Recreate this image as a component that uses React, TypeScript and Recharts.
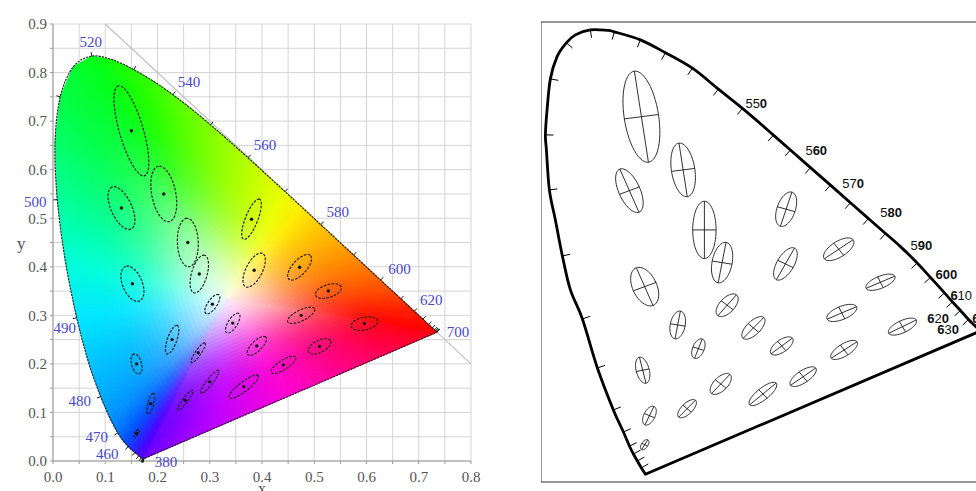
import React from 'react';
import { ScatterChart, Scatter, XAxis, YAxis, CartesianGrid } from 'recharts';

// ---------- LEFT: CIE 1931 spectral locus (5 nm) ----------
const wavelengths = [380,385,390,395,400,405,410,415,420,425,430,435,440,445,450,455,460,465,470,475,480,485,490,495,500,505,510,515,520,525,530,535,540,545,550,555,560,565,570,575,580,585,590,595,600,605,610,615,620,625,630,635,640,645,650,655,660,665,670,675,680,685,690,695,700];
const locusX = [0.1741,0.1740,0.1738,0.1736,0.1733,0.1730,0.1726,0.1721,0.1714,0.1703,0.1689,0.1669,0.1644,0.1611,0.1566,0.1510,0.1440,0.1355,0.1241,0.1096,0.0913,0.0687,0.0454,0.0235,0.0082,0.0039,0.0139,0.0389,0.0743,0.1142,0.1547,0.1929,0.2296,0.2658,0.3016,0.3373,0.3731,0.4087,0.4441,0.4788,0.5125,0.5448,0.5752,0.6029,0.6270,0.6482,0.6658,0.6801,0.6915,0.7006,0.7079,0.7140,0.7190,0.7230,0.7260,0.7283,0.7300,0.7311,0.7320,0.7327,0.7334,0.7340,0.7344,0.7346,0.7347];
const locusY = [0.0050,0.0050,0.0049,0.0049,0.0048,0.0048,0.0048,0.0048,0.0051,0.0058,0.0069,0.0086,0.0109,0.0138,0.0177,0.0227,0.0297,0.0399,0.0578,0.0868,0.1327,0.2007,0.2950,0.4127,0.5384,0.6548,0.7502,0.8120,0.8338,0.8262,0.8059,0.7816,0.7543,0.7243,0.6923,0.6589,0.6245,0.5896,0.5547,0.5202,0.4866,0.4544,0.4242,0.3965,0.3725,0.3514,0.3340,0.3197,0.3083,0.2993,0.2920,0.2859,0.2809,0.2770,0.2740,0.2717,0.2700,0.2689,0.2680,0.2673,0.2666,0.2660,0.2656,0.2654,0.2653];
const whiteX = 0.3333;
const whiteY = 0.3333;

const leftTicksX = [0,0.05,0.1,0.15,0.2,0.25,0.3,0.35,0.4,0.45,0.5,0.55,0.6,0.65,0.7,0.75,0.8];
const leftTicksY = [0,0.05,0.1,0.15,0.2,0.25,0.3,0.35,0.4,0.45,0.5,0.55,0.6,0.65,0.7,0.75,0.8,0.85,0.9];

// MacAdam (1942) ellipses: centre, semi-axes (x 1e-3), angle (deg)
const macX = [0.160,0.187,0.253,0.150,0.131,0.212,0.258,0.152,0.280,0.380,0.160,0.228,0.305,0.385,0.472,0.527,0.475,0.510,0.596,0.344,0.390,0.441,0.278,0.300,0.365];
const macY = [0.057,0.118,0.125,0.680,0.521,0.550,0.450,0.365,0.385,0.498,0.200,0.250,0.323,0.393,0.399,0.350,0.300,0.236,0.283,0.284,0.237,0.198,0.223,0.163,0.153];
const macA = [0.85,2.2,2.5,9.6,4.7,5.8,5.0,3.8,4.0,4.4,2.1,3.1,2.3,3.8,3.2,2.6,2.9,2.4,2.6,2.3,2.5,2.8,2.4,2.9,3.6];
const macB = [0.35,0.55,0.5,2.3,2.0,2.3,2.0,1.9,1.5,1.2,0.95,0.9,0.9,1.6,1.4,1.3,1.1,1.2,1.3,0.9,1.0,0.95,0.55,0.6,0.95];
const macT = [62.5,77,55.5,105,112.5,100,92,110,75.5,70,104,72,58,65.5,51,20,28.5,29.5,13,60,47,34.5,57.5,54,40];
const MAGNIFY = 10; // ellipses drawn ten times actual size

const leftLabelWl = [520,540,560,580,600,620,700,500,490,480,470,460,380];
const leftLabelOff = [[-1,-14],[16,-13],[17,-13],[17,-13],[19,-11],[17,-11],[21,0],[-22,2],[-12,10],[-21,4],[-21,4],[-21,7],[22,3]];

// ---------- RIGHT: traced diagram ----------
const rightLocusX = [0.1717,0.1650,0.1582,0.1515,0.1448,0.1347,0.1178,0.0909,0.0657,0.0455,0.0320,0.0202,0.0101,0.0051,0.0034,0.0062,0.0118,0.0231,0.0387,0.0539,0.0791,0.1072,0.1195,0.1633,0.2054,0.2508,0.2946,0.3350,0.3653,0.3872,0.4158,0.4495,0.4832,0.5168,0.5471,0.5758,0.6010,0.6291,0.6515,0.6751,0.6886,0.7020,0.7155,0.7357];
const rightLocusY = [0.0142,0.0259,0.0388,0.0518,0.0665,0.0924,0.1331,0.2107,0.3013,0.3549,0.4177,0.4843,0.5397,0.6137,0.6414,0.6876,0.7449,0.7861,0.8115,0.8262,0.8355,0.8346,0.8318,0.8170,0.7933,0.7647,0.7259,0.6904,0.6621,0.6410,0.6135,0.5810,0.5486,0.5161,0.4869,0.4593,0.4349,0.4048,0.3780,0.3494,0.3327,0.3170,0.3004,0.2791];
const rightLocusTick = [0,1,1,1,1,1,1,1,1,0,1,0,1,0,1,0,1,0,1,0,1,0,1,1,1,1,1,1,0,1,1,1,1,1,1,1,0,1,1,1,1,1,1,0];

const rightEX = [0.1705,0.1785,0.2419,0.165,0.1448,0.2352,0.2710,0.1705,0.3008,0.4086,0.1672,0.2261,0.3093,0.4074,0.4971,0.5673,0.5022,0.5062,0.6044,0.3535,0.4012,0.4372,0.2609,0.2985,0.3695];
const rightEY = [0.0689,0.1226,0.1355,0.675,0.5384,0.5767,0.4658,0.3610,0.4054,0.5041,0.2065,0.2902,0.3266,0.4030,0.4301,0.3691,0.3124,0.2440,0.2871,0.2847,0.2514,0.1946,0.2464,0.1811,0.1627];
const rightEA = [0.0105,0.0186,0.021,0.085,0.043,0.050,0.053,0.0375,0.038,0.033,0.0247,0.026,0.0248,0.033,0.030,0.0267,0.0273,0.0265,0.0263,0.026,0.023,0.0265,0.019,0.0234,0.030];
const rightEB = [0.0055,0.0095,0.0095,0.029,0.018,0.0197,0.0197,0.0205,0.0169,0.0155,0.011,0.0126,0.013,0.0145,0.014,0.011,0.012,0.011,0.011,0.012,0.011,0.011,0.0098,0.012,0.0105];
const rightET = [60,66,48,98,112,98,90,112,80,73,103,80,51,62.5,36,25,25,35,28,48,39,37,70,49,42];

const rightLabelText = ['550','560','570','580','590','600','610','620','630','640'];
const rightLabelX = [0.340,0.441,0.503,0.567,0.618,0.660,0.685,0.646,0.663,0.722];
const rightLabelY = [0.691,0.604,0.543,0.490,0.429,0.375,0.336,0.294,0.274,0.294];
const rightLabelBold = ['001','011','001','011','011','111','100','101','101','100'];

const rightTicksX = [0.05,0.1,0.15,0.2,0.25,0.3,0.35,0.4,0.45,0.5,0.55,0.6,0.65,0.7];
const rightTicksY = [0.05,0.1,0.15,0.2,0.25,0.3,0.35,0.4,0.45,0.5,0.55,0.6,0.65,0.7,0.75,0.8];

// ---------- colours ----------
const specStops: [number, string][] = [
  [380,'#6a00ff'],[440,'#4a00ff'],[455,'#2424ff'],[465,'#0050ff'],[475,'#0090ff'],[485,'#00c4ff'],
  [490,'#00e6ff'],[495,'#00ffd8'],[500,'#00ff9c'],[505,'#00ff6a'],[510,'#00ff44'],[520,'#00ff18'],
  [530,'#22ff00'],[540,'#52ff00'],[550,'#84ff00'],[560,'#b6ff00'],[570,'#eaff00'],[575,'#ffec00'],
  [580,'#ffc800'],[590,'#ff9000'],[600,'#ff6000'],[610,'#ff3a00'],[620,'#ff1e00'],[640,'#ff0a00'],[700,'#ff0000']];
const purpleStops: [number, string][] = [[0,'#ff0010'],[0.25,'#ff0070'],[0.5,'#ff00d0'],[0.75,'#c000ff'],[1,'#6a00ff']];

type RGB = number[];
function hx(c: string): RGB { return [parseInt(c.slice(1,3),16), parseInt(c.slice(3,5),16), parseInt(c.slice(5,7),16)]; }
function mixRGB(A: RGB, B: RGB, t: number): RGB { return A.map((v, i) => v + (B[i] - v) * t); }
function rgbStr(c: RGB) { return `rgb(${Math.round(c[0])},${Math.round(c[1])},${Math.round(c[2])})`; }
function stopColor(stops: [number, string][], w: number): RGB {
  for (let i = 0; i < stops.length - 1; i++) {
    const [w0, c0] = stops[i], [w1, c1] = stops[i + 1];
    if (w >= w0 && w <= w1) return mixRGB(hx(c0), hx(c1), (w - w0) / (w1 - w0));
  }
  return hx(stops[stops.length - 1][1]);
}
const locusColors = wavelengths.map(w => stopColor(specStops, w));

// ---------- derived data ----------
const fillData = [...wavelengths.map((w, i) => ({ x: locusX[i], y: locusY[i] })), { x: whiteX, y: whiteY }];
const locusData = wavelengths.map((w, i) => ({ x: locusX[i], y: locusY[i], w }));
const leftTickMask = wavelengths.map(w => w % 10 === 0);
const diagData = [{ x: 0.1, y: 0.9 }, { x: 0.8, y: 0.2 }];

function triple(cx: number, cy: number, a: number, b: number, t: number) {
  const r = (t * Math.PI) / 180;
  return [
    { x: cx, y: cy, k: 0 },
    { x: cx + a * Math.cos(r), y: cy + a * Math.sin(r), k: 1 },
    { x: cx - b * Math.sin(r), y: cy + b * Math.cos(r), k: 2 },
  ];
}
const leftEllipseData = macX.flatMap((x, i) => triple(x, macY[i], macA[i] * 1e-3 * MAGNIFY, macB[i] * 1e-3 * MAGNIFY, macT[i]));
const rightEllipseData = rightEX.flatMap((x, i) => triple(x, rightEY[i], rightEA[i], rightEB[i], rightET[i]));
const leftLabelData = leftLabelWl.map((w, i) => { const j = wavelengths.indexOf(w); return { x: locusX[j], y: locusY[j], t: String(w), i }; });
const rightLocusData = rightLocusX.map((x, i) => ({ x, y: rightLocusY[i] }));
const rightTickMask = rightLocusTick.map(v => v === 1);
const rightLabelData = rightLabelText.map((t, i) => ({ x: rightLabelX[i], y: rightLabelY[i], t, i }));

// ---------- drawing helpers (pixel points come from Recharts scales) ----------
const Nothing = () => <g />;

function GamutFill(props: any) {
  const pts = props.points || [];
  if (pts.length < 4) return null;
  const pal: RGB[] = props.pal;
  const W = pts[pts.length - 1];
  const L = pts.slice(0, -1);
  const tris: any[] = [];
  const edge = (A: any, B: any, colAt: (t: number) => RGB, key: string) => {
    const len = Math.hypot(B.x - A.x, B.y - A.y);
    const m = Math.max(1, Math.ceil(len / 1.5));
    for (let s = 0; s < m; s++) {
      const t0 = s / m, t1 = (s + 1) / m;
      const P = { x: A.x + (B.x - A.x) * t0, y: A.y + (B.y - A.y) * t0 };
      const Q = { x: A.x + (B.x - A.x) * t1, y: A.y + (B.y - A.y) * t1 };
      const c = rgbStr(colAt((t0 + t1) / 2));
      tris.push(
        <polygon key={key + '_' + s} points={`${W.x.toFixed(2)},${W.y.toFixed(2)} ${P.x.toFixed(2)},${P.y.toFixed(2)} ${Q.x.toFixed(2)},${Q.y.toFixed(2)}`}
          fill={c} stroke={c} strokeWidth={0.9} strokeLinejoin="round" />
      );
    }
  };
  for (let i = 0; i < L.length - 1; i++) edge(L[i], L[i + 1], t => mixRGB(pal[i], pal[i + 1], t), 'e' + i);
  edge(L[L.length - 1], L[0], t => stopColor(purpleStops, t), 'p');
  const layers: any[] = [];
  const N = 32;
  for (let k = N; k >= 1; k--) {
    const s = k / N;
    const o = 0.25 * Math.pow(1 - s, 2.5) + 0.005;
    const pp = L.map((p: any) => `${(W.x + s * (p.x - W.x)).toFixed(2)},${(W.y + s * (p.y - W.y)).toFixed(2)}`).join(' ');
    layers.push(<polygon key={'w' + k} points={pp} fill="#ffffff" fillOpacity={o} />);
  }
  return <g>{tris}{layers}</g>;
}

function pathOf(pts: any[], smooth: boolean) {
  if (!smooth) return pts.map((p: any, i: number) => (i ? 'L' : 'M') + p.x.toFixed(2) + ',' + p.y.toFixed(2)).join('') + 'Z';
  let d = 'M' + pts[0].x.toFixed(2) + ',' + pts[0].y.toFixed(2);
  for (let i = 0; i < pts.length - 1; i++) {
    const p0 = pts[Math.max(0, i - 1)], p1 = pts[i], p2 = pts[i + 1], p3 = pts[Math.min(pts.length - 1, i + 2)];
    const c1x = p1.x + (p2.x - p0.x) / 6, c1y = p1.y + (p2.y - p0.y) / 6;
    const c2x = p2.x - (p3.x - p1.x) / 6, c2y = p2.y - (p3.y - p1.y) / 6;
    d += `C${c1x.toFixed(2)},${c1y.toFixed(2)} ${c2x.toFixed(2)},${c2y.toFixed(2)} ${p2.x.toFixed(2)},${p2.y.toFixed(2)}`;
  }
  return d + 'Z';
}

function LocusOutline(props: any) {
  const pts = props.points || [];
  const n = pts.length;
  if (n < 3) return null;
  const mask: boolean[] = props.tickMask;
  const cx = pts.reduce((s: number, p: any) => s + p.x, 0) / n;
  const cy = pts.reduce((s: number, p: any) => s + p.y, 0) / n;
  const d = pathOf(pts, !!props.smooth);
  const ticks: any[] = [];
  const dist = (a: any, b: any) => Math.hypot(a.x - b.x, a.y - b.y);
  for (let i = 0; i < n; i++) {
    if (!mask[i]) continue;
    const P = pts[i];
    let j = i; while (j > 0 && dist(pts[j], P) < 2) j--;
    let k = i; while (k < n - 1 && dist(pts[k], P) < 2) k++;
    let tx = pts[k].x - pts[j].x, ty = pts[k].y - pts[j].y;
    const len = Math.hypot(tx, ty) || 1; tx /= len; ty /= len;
    let nx = -ty, ny = tx;
    if ((P.x - cx) * nx + (P.y - cy) * ny < 0) { nx = -nx; ny = -ny; }
    nx *= props.tickDir; ny *= props.tickDir;
    ticks.push(<line key={i} x1={P.x} y1={P.y} x2={P.x + nx * props.tickLen} y2={P.y + ny * props.tickLen} stroke={props.lineColor} strokeWidth={props.tickW} />);
  }
  return (
    <g>
      <path d={d} fill="none" stroke={props.lineColor} strokeWidth={props.lineW} strokeDasharray={props.dashArr} strokeLinejoin="round" />
      {ticks}
    </g>
  );
}

function EllipseSet(props: any) {
  const pts = props.points || [];
  const out: any[] = [];
  for (let i = 0; i + 2 < pts.length; i += 3) {
    const C = pts[i];
    const U = { x: pts[i + 1].x - C.x, y: pts[i + 1].y - C.y };
    const V = { x: pts[i + 2].x - C.x, y: pts[i + 2].y - C.y };
    let d = '';
    const S = 56;
    for (let s = 0; s <= S; s++) {
      const t = (s / S) * Math.PI * 2;
      const x = C.x + U.x * Math.cos(t) + V.x * Math.sin(t);
      const y = C.y + U.y * Math.cos(t) + V.y * Math.sin(t);
      d += (s ? 'L' : 'M') + x.toFixed(2) + ',' + y.toFixed(2);
    }
    d += 'Z';
    out.push(<path key={'e' + i} d={d} fill="none" stroke={props.lineColor} strokeWidth={props.lineW} strokeDasharray={props.dashArr} />);
    if (props.crossed) {
      out.push(<line key={'u' + i} x1={C.x - U.x} y1={C.y - U.y} x2={C.x + U.x} y2={C.y + U.y} stroke={props.lineColor} strokeWidth={props.lineW} />);
      out.push(<line key={'v' + i} x1={C.x - V.x} y1={C.y - V.y} x2={C.x + V.x} y2={C.y + V.y} stroke={props.lineColor} strokeWidth={props.lineW} />);
    }
  }
  return <g>{out}</g>;
}

const centerDot = (p: any) => (p.payload && p.payload.k === 0 ? <circle cx={p.cx} cy={p.cy} r={1.7} fill="#151515" /> : <g />);

const leftLabelShape = (p: any) => {
  const off = leftLabelOff[p.payload.i];
  return (
    <text x={p.cx + off[0]} y={p.cy + off[1]} textAnchor="middle" dominantBaseline="central" fontFamily="'Liberation Serif', 'DejaVu Serif', serif" fontSize={15} fill="#4747c9">
      {p.payload.t}
    </text>
  );
};

const rightLabelShape = (p: any) => {
  const mask = rightLabelBold[p.payload.i];
  return (
    <text x={p.cx} y={p.cy} fontFamily="'Liberation Sans', Arial, sans-serif" fontSize={13} fill="#111">
      {p.payload.t.split('').map((c: string, j: number) => (
        <tspan key={j} fontWeight={mask[j] === '1' ? 700 : 400}>{c}</tspan>
      ))}
    </text>
  );
};

const fmt1 = (v: number) => (Math.abs(v * 10 - Math.round(v * 10)) < 1e-6 ? v.toFixed(1) : '');
const serifTick = { fontFamily: "'Liberation Serif', 'DejaVu Serif', serif", fontSize: 15, fill: '#555' };

function LeftChart() {
  return (
    <ScatterChart width={500} height={491} margin={{ top: 24, right: 29, bottom: 0, left: 0 }}>
      <CartesianGrid stroke="#d4d4d4" strokeWidth={1} />
      <XAxis type="number" dataKey="x" domain={[0, 0.8]} ticks={leftTicksX} tickFormatter={fmt1} interval={0}
        height={30} stroke="#999" tickSize={3} tickMargin={7} tick={serifTick}
        label={{ value: 'x', position: 'insideBottom', offset: -3, style: { fontFamily: "'Liberation Serif', serif", fontSize: 17, fill: '#555' } }} />
      <YAxis type="number" dataKey="y" domain={[0, 0.9]} ticks={leftTicksY} tickFormatter={fmt1} interval={0}
        width={53} stroke="#999" tickSize={3} tickMargin={3} tick={serifTick}
        label={{ value: 'y', position: 'insideLeft', offset: 17, style: { fontFamily: "'Liberation Serif', serif", fontSize: 17, fill: '#555' } }} />
      <Scatter data={diagData} isAnimationActive={false} shape={Nothing} line={{ stroke: '#c2c2c2', strokeWidth: 1.2 }} />
      <Scatter data={fillData} isAnimationActive={false} shape={Nothing} line={<GamutFill pal={locusColors} />} />
      <Scatter data={locusData} isAnimationActive={false} shape={Nothing}
        line={<LocusOutline smooth tickMask={leftTickMask} tickDir={1} tickLen={4} tickW={1} lineColor="#1a1a1a" lineW={1.1} dashArr="2.2 1" />} />
      <Scatter data={leftEllipseData} isAnimationActive={false} shape={centerDot}
        line={<EllipseSet lineColor="#1c1c1c" lineW={1.15} dashArr="2.6 1.4" crossed={false} />} />
      <Scatter data={leftLabelData} isAnimationActive={false} shape={leftLabelShape} />
    </ScatterChart>
  );
}

function RightChart() {
  return (
    <ScatterChart width={448} height={491} margin={{ top: 22, right: 0, bottom: 9, left: 0 }}>
      <XAxis type="number" dataKey="x" domain={[-0.004, 0.75]} ticks={rightTicksX} interval={0} mirror tick={false} tickSize={8} stroke="#333" />
      <XAxis xAxisId="t" orientation="top" type="number" domain={[-0.004, 0.75]} allowDataOverflow ticks={rightTicksX} interval={0} mirror tick={false} tickSize={7} stroke="#333" />
      <YAxis type="number" dataKey="y" domain={[0, 0.85]} ticks={rightTicksY} interval={0} mirror tick={false} tickSize={9} stroke="#333" />
      <Scatter data={rightLocusData} isAnimationActive={false} shape={Nothing}
        line={<LocusOutline smooth tickMask={rightTickMask} tickDir={-1} tickLen={8} tickW={1} lineColor="#000" lineW={2.8} dashArr="none" />} />
      <Scatter data={rightEllipseData} isAnimationActive={false} shape={Nothing}
        line={<EllipseSet lineColor="#1a1a1a" lineW={0.9} dashArr="none" crossed={true} />} />
      <Scatter data={rightLabelData} isAnimationActive={false} shape={rightLabelShape} />
    </ScatterChart>
  );
}

export default function App() {
  return (
    <div style={{ position: 'fixed', left: 0, top: 0, width: 976, height: 491, overflow: 'hidden', background: '#fff' }}>
      <div style={{ position: 'absolute', left: 0, top: 0 }}><LeftChart /></div>
      <div style={{ position: 'absolute', left: 541, top: 0 }}><RightChart /></div>
    </div>
  );
}
